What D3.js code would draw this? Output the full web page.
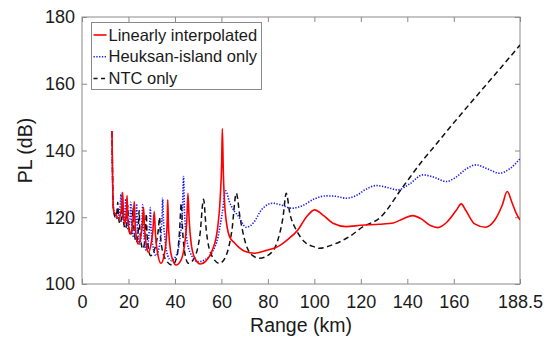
<!DOCTYPE html>
<html>
<head>
<meta charset="utf-8">
<script src="https://cdn.jsdelivr.net/npm/d3@7"></script>
<style>
  body { margin: 0; background: #fff; }
  svg { display: block; font-family: "Liberation Sans", Arial, sans-serif; }
</style>
</head>
<body>
<div id="chart"></div>
<script>
// PL vs range, three sound speed profile cases

var seriesNames = ["Linearly interpolated", "Heuksan-island only", "NTC only"];

// [range km, PL dB]
var linearPts = [[12.9,145.8],[13.1,135],[13.4,124],[13.8,121.5],[14.5,121],[15.2,120],[15.9,119.5],[16.7,121.5],[17.2,124],[17.5,127.5],[17.8,122],[18.3,118],[18.8,119.5],[19.2,123],[19.4,126.5],[19.7,120],[20.3,116],[20.8,115],[21.6,117],[22.2,121],[22.5,124.7],[22.8,119],[23.4,114],[24.2,112],[25.2,114],[26.0,118],[26.5,123],[26.9,117],[27.6,112],[28.5,109.5],[29.6,111.5],[30.5,116],[31.1,121.7],[31.6,115],[32.6,109],[34.0,106.2],[35.3,108.5],[36.2,113],[36.7,119.5],[36.9,125.2],[37.2,118],[37.9,111],[38.9,107.5],[40.5,105.7],[42.5,107],[44.2,112],[45.1,119],[45.6,127.2],[46.1,119.5],[47,112],[48.4,108],[51,106],[53.5,107],[56,110],[58.2,116],[59.5,126],[60.1,136],[60.4,146.6],[60.8,134],[61.6,122],[63.5,114.2],[65.7,112.3],[67.8,110.8],[70,109.8],[74.3,109.2],[79,110],[84.3,111.2],[88.5,113.3],[92.9,116.2],[96.5,120],[100.1,122.2],[104,120.5],[108,118.2],[113.7,117.2],[120,117.6],[128,117.9],[134,118.3],[138,119.5],[142.4,120.5],[146,119.5],[150,117.5],[153.1,116.9],[157,118.5],[161,122],[163.2,124],[165.2,122],[169,118],[173.6,117],[177.5,119],[180.8,123.5],[183,127.7],[185,124.5],[187,121],[188.5,119.2]];

var heuksanPts = [[12.9,145.8],[13.1,135],[13.4,124],[13.8,121.5],[14.5,120.5],[15.3,119.5],[16.0,121],[16.5,124],[16.8,127.2],[17.1,122],[17.8,119],[18.3,120.5],[18.6,123],[18.8,125.5],[19.1,120],[19.8,116.5],[20.4,118],[20.8,121.5],[21.0,124.5],[21.3,119],[22.2,114],[22.9,117],[23.3,121],[23.5,124],[23.8,118],[24.8,112],[25.6,116],[25.9,120.5],[26.1,123.7],[26.4,117],[27.7,110],[28.7,114],[29.2,119.5],[29.4,122.9],[29.7,117],[30.6,111],[31.8,108.5],[33.2,111],[34.2,117],[34.5,121.5],[34.7,125.7],[35.0,120],[35.8,113],[36.9,108.5],[38.4,107],[40.5,108.5],[42.2,114],[43.2,122],[43.7,132.2],[44.1,122],[45,114],[46.5,109.5],[49.9,106.7],[53,107.3],[56,109.5],[58.5,114],[60.3,121],[61.8,127.9],[63.5,124.5],[65.7,121.7],[67.1,120.5],[70.7,117],[74,118.5],[77.2,122.2],[82.2,124.2],[86,123.6],[90.1,122.7],[95,123.5],[100,125.5],[105.1,126.4],[109,126.3],[113.7,125.7],[118,126.5],[122,128.3],[126.6,129.5],[131,129],[135.9,128.2],[141,130],[146.7,132.7],[151.5,132],[156.7,130.7],[160.5,131.8],[165,134.3],[169.6,135.7],[174.5,134.5],[179.7,133.2],[184,134.5],[188.5,137.5]];

var ntcPts = [[12.9,145.8],[13.1,135],[13.4,124],[13.8,121],[14.4,120],[15.0,121.5],[15.4,124.5],[15.7,120],[16.4,118],[17.0,120],[17.5,124],[17.8,119],[18.7,116.5],[19.3,119],[19.7,123.5],[20.0,118],[21.0,114.5],[21.6,118],[22.0,123],[22.3,117],[23.4,112.5],[24.2,116],[24.6,122],[24.9,116],[26.2,110.5],[27.2,114],[27.7,121],[28.0,114.5],[29.5,108.5],[31.5,111],[32.8,116],[33.4,120],[33.8,114],[35.5,108],[38.8,105.7],[40.8,108],[42.0,116],[42.7,124.2],[43.3,116],[44.3,109],[45.8,106.2],[48.5,108],[50.8,115],[52.3,125.4],[53.5,116],[55.5,109],[59.2,106.2],[62,108.5],[64.5,116],[66.4,127.2],[68,120],[70.5,112],[73.5,108.5],[76.4,107.7],[80.5,108.8],[84.3,113.2],[86.5,120],[87.9,127.2],[89.5,121],[92.2,116.2],[96,112.5],[100.1,111.1],[102.2,110.7],[108,111.8],[115.1,114.2],[121,117.2],[128,119.7],[138,129],[146.7,137.1],[151,140.7],[160,148.3],[170,156.5],[180,164.6],[188.5,171.6]];

var xTicks = [0, 20, 40, 60, 80, 100, 120, 140, 160, 188.5];
var yTicks = [100, 120, 140, 160, 180];

var width = 553, height = 338;
var margin = {top: 17, right: 33, bottom: 54, left: 82};
var w = width - margin.left - margin.right;
var h = height - margin.top - margin.bottom;

var svg = d3.select("#chart").append("svg")
	.attr("width", width).attr("height", height);

var x = d3.scaleLinear().domain([0, 188.5]).range([0, w]);
var y = d3.scaleLinear().domain([100, 180]).range([h, 0]);

var g = svg.append("g").attr("transform", "translate(" + margin.left + "," + margin.top + ")");

g.append("clipPath").attr("id", "clip")
	.append("rect").attr("width", w).attr("height", h);

var axisColor = "#8a8a8a";
var fmt = function(d) { return d === 188.5 ? "188.5" : d3.format("d")(d); };

function styleAxis(sel, showText) {
	sel.select(".domain").remove();
	sel.selectAll(".tick line").attr("stroke", axisColor);
	sel.selectAll(".tick text")
		.attr("fill", "#1a1a1a")
		.style("font-size", "18px")
		.style("display", showText ? null : "none");
}

// ticks point inward, MATLAB style
g.append("g").attr("transform", "translate(0," + h + ")")
	.call(d3.axisBottom(x).tickValues(xTicks).tickFormat(fmt).tickSize(-5).tickPadding(11))
	.call(styleAxis, true);
g.append("g")
	.call(d3.axisTop(x).tickValues(xTicks).tickSize(-5))
	.call(styleAxis, false);
g.append("g")
	.call(d3.axisLeft(y).tickValues(yTicks).tickSize(-5).tickPadding(7))
	.call(styleAxis, true);
g.append("g").attr("transform", "translate(" + w + ",0)")
	.call(d3.axisRight(y).tickValues(yTicks).tickSize(-5))
	.call(styleAxis, false);

g.append("rect").attr("width", w).attr("height", h)
	.attr("fill", "none").attr("stroke", axisColor).attr("stroke-width", 1);

var line = d3.line()
	.x(function(d) { return x(d[0]); })
	.y(function(d) { return y(d[1]); })
	.curve(d3.curveMonotoneX);

var styles = [
	{color: "#ff0000", dash: null, width: 1.6},
	{color: "#1a1aff", dash: "1.3,1.5", width: 1.6},
	{color: "#111111", dash: "5.5,3.5", width: 1.5}
];
var allData = [linearPts, heuksanPts, ntcPts];

var plot = g.append("g").attr("clip-path", "url(#clip)");
// draw NTC first, then Heuksan, then linear on top
[2, 1, 0].forEach(function(i) {
	plot.append("path")
		.datum(allData[i])
		.attr("fill", "none")
		.attr("stroke", styles[i].color)
		.attr("stroke-width", styles[i].width)
		.attr("stroke-dasharray", styles[i].dash)
		.attr("stroke-linejoin", "round")
		.attr("d", line);
});

// legend
var leg = g.append("g").attr("transform", "translate(9.5,5.5)");
leg.append("rect").attr("width", 170).attr("height", 67)
	.attr("fill", "#fff").attr("stroke", axisColor).attr("stroke-width", 1);
seriesNames.forEach(function(name, i) {
	var ly = 12.5 + i * 21.7;
	leg.append("line")
		.attr("x1", 2).attr("x2", 15).attr("y1", ly).attr("y2", ly)
		.attr("stroke", styles[i].color)
		.attr("stroke-width", styles[i].width)
		.attr("stroke-dasharray", i === 2 ? "4,3.5" : styles[i].dash);
	leg.append("text")
		.attr("x", 17).attr("y", ly).attr("dy", "0.35em")
		.attr("fill", "#1a1a1a")
		.style("font-size", "16.5px")
		.text(name);
});

// axis labels
svg.append("text")
	.attr("x", margin.left + w / 2).attr("y", 332)
	.attr("text-anchor", "middle")
	.attr("fill", "#1a1a1a")
	.style("font-size", "19.5px")
	.text("Range (km)");
svg.append("text")
	.attr("transform", "translate(32," + (margin.top + h / 2) + ") rotate(-90)")
	.attr("text-anchor", "middle")
	.attr("fill", "#1a1a1a")
	.style("font-size", "19.5px")
	.text("PL (dB)");
</script>
</body>
</html>
